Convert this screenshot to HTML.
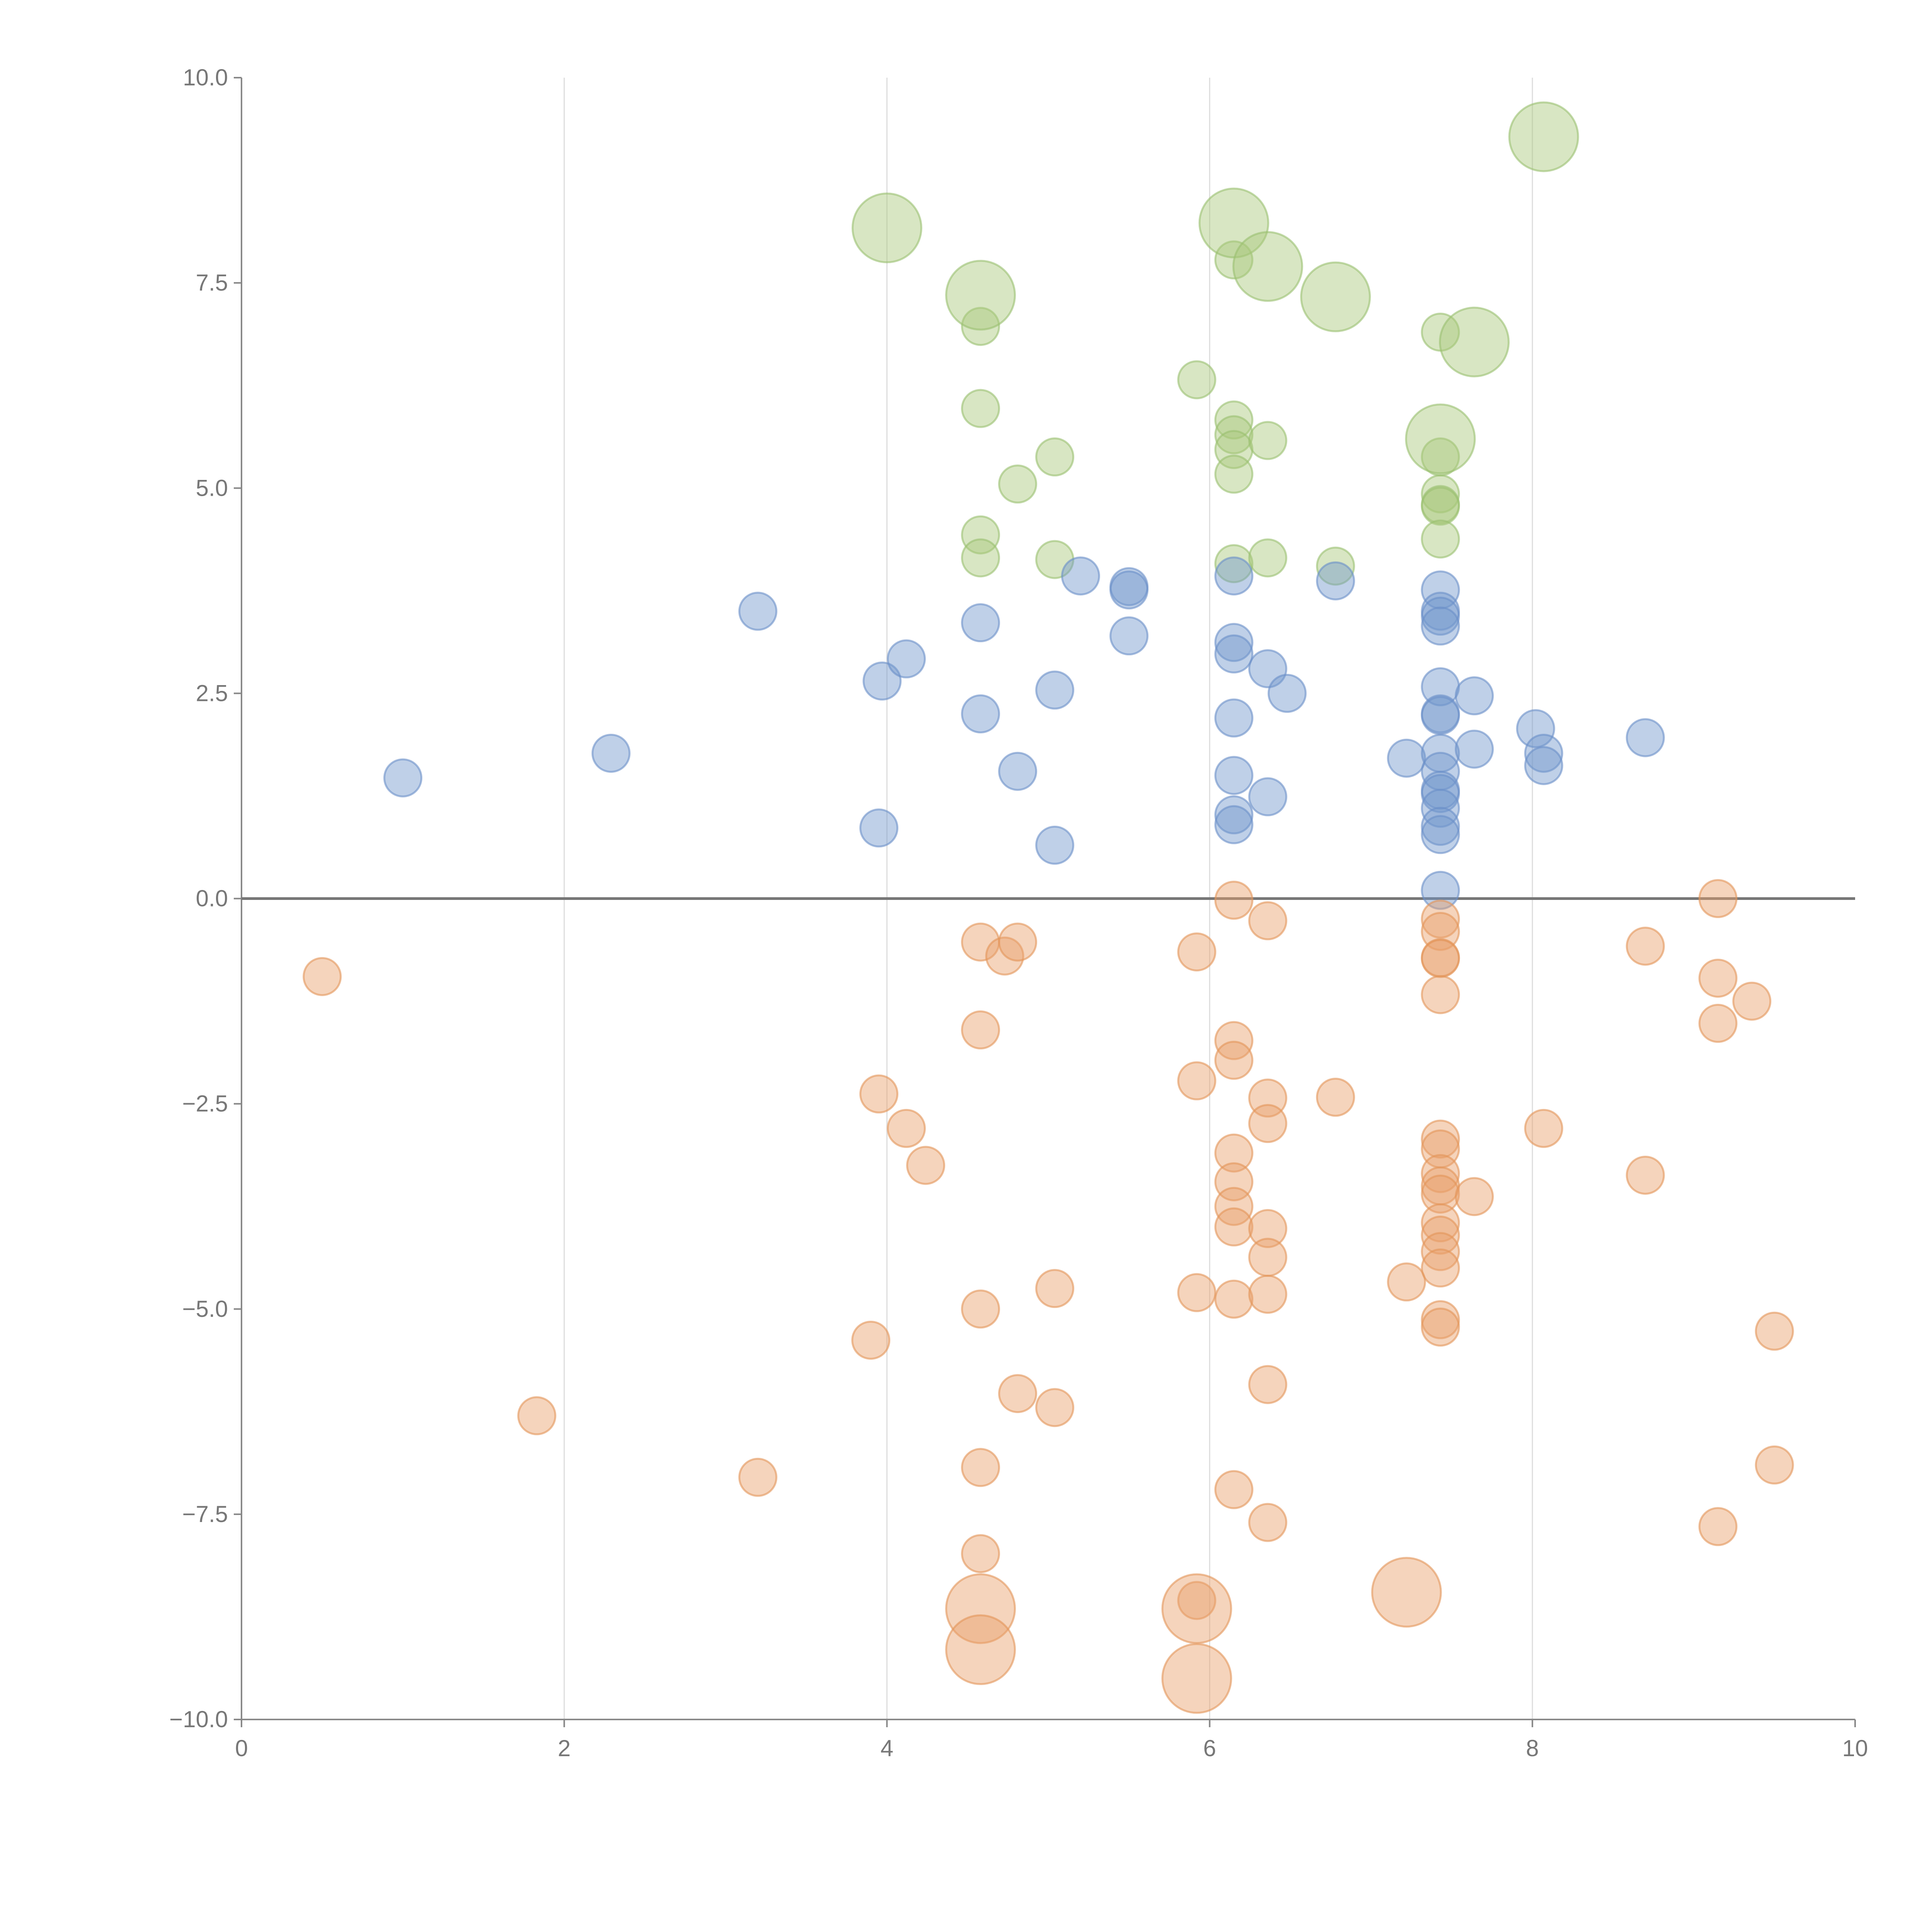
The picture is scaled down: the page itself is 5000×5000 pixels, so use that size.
<!DOCTYPE html>
<html><head><meta charset="utf-8">
<style>
html,body{margin:0;padding:0;background:#fff;}
svg{display:block;}
text{font-family:"Liberation Sans",sans-serif;fill:#777;}
</style></head>
<body>
<svg id="chart" width="5000" height="5000" viewBox="0 0 5000 5000" xmlns="http://www.w3.org/2000/svg">
<g id="grid"></g>
<g id="axes"></g>
<g id="marks"></g>
</svg>
<script>
const xTicks=[0,2,4,6,8,10];
const yTicks=[10,7.5,5,2.5,0,-2.5,-5,-7.5,-10];
const yTickLabels=["10.0","7.5","5.0","2.5","0.0","\u22122.5","\u22125.0","\u22127.5","\u221210.0"];
const blueX=[1.0,2.29,3.2,3.97,4.12,3.95,4.58,4.58,4.81,5.04,5.04,5.2,5.5,5.5,5.5,6.15,6.15,6.15,6.36,6.48,6.15,6.15,6.15,6.15,6.36,6.78,7.43,7.43,7.43,7.43,7.43,7.43,7.43,7.64,7.22,7.43,7.43,7.43,7.43,7.43,7.43,7.43,7.43,7.64,8.02,8.07,8.07,8.7];
const blueY=[1.47,1.77,3.5,2.65,2.92,0.86,3.36,2.25,1.55,2.54,0.65,3.93,3.8,3.76,3.2,3.93,3.12,2.98,2.8,2.5,2.2,1.5,1.02,0.9,1.24,3.87,3.76,3.5,3.44,3.32,2.58,2.25,2.23,2.47,1.71,1.77,1.55,1.32,1.28,1.1,0.88,0.78,0.1,1.82,2.07,1.77,1.62,1.96];
const greenX=[4.58,4.58,4.81,5.04,4.58,4.58,5.04,5.92,6.15,6.15,6.15,6.15,6.15,6.36,6.15,6.36,6.78,7.43,7.43,7.43,7.43,7.43,7.43,4.0,4.58,6.15,6.36,6.78,7.43,7.64,8.07];
const greenY=[6.97,5.97,5.05,5.38,4.43,4.15,4.13,6.32,7.78,5.83,5.65,5.47,5.17,5.58,4.08,4.15,4.05,6.9,5.38,4.93,4.8,4.78,4.38,8.17,7.35,8.23,7.7,7.33,5.6,6.78,9.28];
const greenS=[1,1,1,1,1,1,1,1,1,1,1,1,1,1,1,1,1,1,1,1,1,1,1,2,2,2,2,2,2,2,2];
const orangeX=[0.5,1.83,3.2,3.95,4.12,4.24,3.9,4.58,4.73,4.81,4.58,4.58,4.81,5.04,5.04,4.58,4.58,5.92,5.92,5.92,5.92,6.15,6.36,6.15,6.15,6.36,6.36,6.15,6.15,6.15,6.15,6.36,6.36,6.15,6.36,6.36,6.15,6.36,6.78,7.22,7.43,7.43,7.43,7.43,7.43,7.43,7.43,7.43,7.43,7.43,7.43,7.43,7.43,7.43,7.43,7.43,7.64,8.07,8.7,8.7,9.15,9.15,9.15,9.36,9.5,9.5,9.15,4.58,4.58,5.92,5.92,7.22];
const orangeY=[-0.95,-6.3,-7.05,-2.38,-2.8,-3.25,-5.38,-0.53,-0.7,-0.53,-1.6,-5.0,-6.03,-4.75,-6.2,-6.93,-7.98,-0.65,-2.22,-4.8,-8.55,-0.02,-0.27,-1.73,-1.97,-2.43,-2.74,-3.1,-3.45,-3.75,-4.0,-4.02,-4.37,-4.88,-4.82,-5.92,-7.2,-7.6,-2.42,-4.67,-0.25,-0.4,-0.72,-0.73,-1.17,-2.93,-3.05,-3.35,-3.5,-3.6,-3.95,-4.1,-4.3,-4.5,-5.13,-5.22,-3.63,-2.8,-0.58,-3.37,0.0,-0.97,-1.52,-1.25,-5.27,-6.9,-7.65,-8.65,-9.15,-8.65,-9.5,-8.45];
const orangeS=orangeX.map((_,i)=>i>=67?2:1);

const NS="http://www.w3.org/2000/svg";
const X0=625,X1=4801,Y0=4450,Y1=201;
function sx(v){return X0+(v-0)/(10-0)*(X1-X0);}
function sy(v){return Y0-(v+10)/20*(Y0-Y1);}
function rr(s){return s===2?89:48;}
function mk(tag,attrs,parent){const e=document.createElementNS(NS,tag);for(const k in attrs)e.setAttribute(k,attrs[k]);parent.appendChild(e);return e;}
const grid=document.getElementById('grid'),axes=document.getElementById('axes'),marks=document.getElementById('marks');
xTicks.forEach(t=>{if(t>0&&t<10){const l=mk('line',{x1:sx(t),x2:sx(t),y1:Y1,y2:Y0,stroke:'#dddddd','stroke-width':3},grid);

}});
mk('line',{x1:X0,x2:X0,y1:Y1,y2:Y0,stroke:'#888','stroke-width':4},axes);
mk('line',{x1:X0,x2:X1,y1:Y0,y2:Y0,stroke:'#888','stroke-width':4},axes);
xTicks.forEach(t=>{mk('line',{x1:sx(t),x2:sx(t),y1:Y0,y2:Y0+20,stroke:'#888','stroke-width':4},axes);
const tx=mk('text',{x:sx(t),y:Y0+95,'font-size':60,'text-anchor':'middle'},axes);tx.textContent=t;

});
yTicks.forEach((t,i)=>{mk('line',{x1:X0-20,x2:X0,y1:sy(t),y2:sy(t),stroke:'#888','stroke-width':4},axes);
const tx=mk('text',{x:X0-35,y:sy(t)+20,'font-size':60,'text-anchor':'end'},axes);tx.textContent=yTickLabels[i];

});
function series(xs,ys,ss,fill,stroke,name){xs.forEach((x,i)=>{const c=mk('circle',{cx:sx(x),cy:sy(ys[i]),r:rr(ss?ss[i]:1),fill:fill,'fill-opacity':0.45,stroke:stroke,'stroke-opacity':0.6,'stroke-width':5},marks);

});}
series(greenX,greenY,greenS,'#a8c87a','#9ac070','green-bubble');
series(blueX,blueY,null,'#7096cc','#6a90c8','blue-bubble');
series(orangeX,orangeY,orangeS,'#e8a06a','#e39558','orange-bubble');
const z=mk('line',{x1:X0,x2:X1,y1:sy(0),y2:sy(0),stroke:'#777','stroke-width':7},axes);


</script>
</body></html>
